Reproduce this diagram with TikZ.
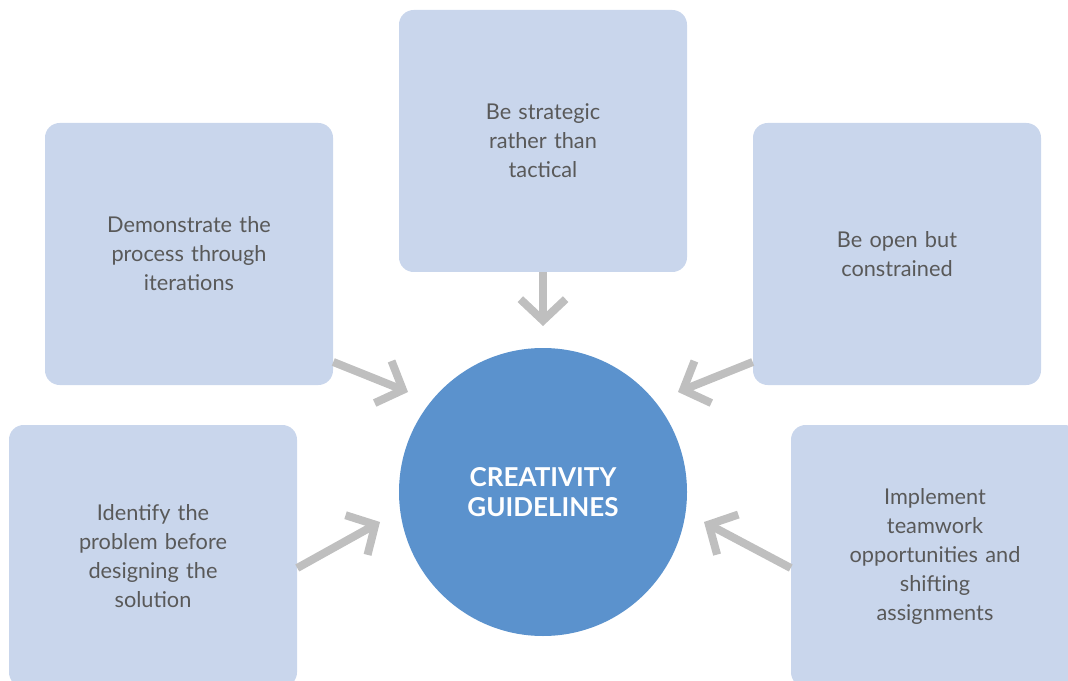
\documentclass[tikz,border=0pt]{standalone}
\usepackage{fontspec}
\setmainfont{Lato}
\usetikzlibrary{arrows.meta}
\definecolor{boxblue}{HTML}{C9D6EC}
\definecolor{circblue}{HTML}{5B92CD}
\definecolor{arrowgray}{HTML}{BFBFBF}
\definecolor{textgray}{HTML}{595959}

\begin{document}
\begin{tikzpicture}[x=0.75pt, y=-0.75pt,
  guide/.style={fill=boxblue, rounded corners=11pt, minimum width=216pt,
    minimum height=196.5pt, text width=160pt, align=center,
    text=textgray, font=\fontsize{16.3}{21.75}\selectfont},
  pointer/.style={draw=arrowgray, line width=6pt,
    -{Straight Barb[length=16pt, width=34pt]}}]
\useasboundingbox (0, 0) rectangle (1068, 681);
\node [guide] (strategic) at (543, 141) {Be strategic\\rather than\\tactical};
\node [guide] (demonstrate) at (189, 254) {Demonstrate the\\process through\\iterations};
\node [guide] (open) at (897, 254) {Be open but\\constrained};
\node [guide] (identify) at (153, 556) {Identify the\\problem before\\designing the\\solution};
\node [guide] (teamwork) at (935, 556) {Implement\\teamwork\\opportunities and\\shifting\\assignments};
\node [circle, fill=circblue, minimum size=216pt, align=center, text=white,
  font=\fontsize{19.5}{22}\selectfont\bfseries] (center) at (543, 492)
  {CREATIVITY\\GUIDELINES};
\coordinate (tipA) at (543, 326);
\coordinate (tipB) at (408, 392);
\coordinate (tipC) at (678, 392);
\coordinate (tipD) at (380, 522);
\coordinate (tipE) at (704, 522);
\draw [pointer] (strategic.south) -- (tipA);
\draw [pointer] (demonstrate.east |- 0, 362) -- (tipB);
\draw [pointer] (open.west |- 0, 362) -- (tipC);
\draw [pointer] (identify.east |- 0, 568) -- (tipD);
\draw [pointer] (teamwork.west |- 0, 568) -- (tipE);
\end{tikzpicture}
\end{document}
